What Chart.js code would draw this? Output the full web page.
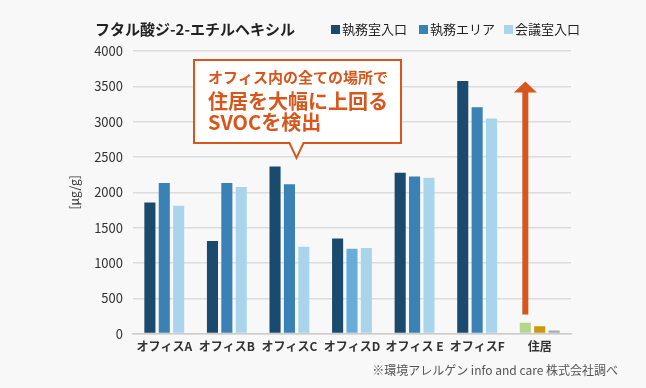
<!DOCTYPE html>
<html lang="ja">
<head>
<meta charset="UTF-8">
<title>フタル酸ジ-2-エチルヘキシル</title>
<script src="https://cdn.jsdelivr.net/npm/chart.js"></script>
<style>
  html, body { margin: 0; padding: 0; background: #f8f8f8; }
  #wrap { width: 646px; height: 388px; }
</style>
</head>
<body>
<div id="wrap"><canvas id="chart"></canvas></div>
<script>
const FONT = '"Noto Sans CJK JP", "Noto Sans", sans-serif';
const ORANGE = '#d8561b';

// データ
const categories = ['オフィスA', 'オフィスB', 'オフィスC', 'オフィスD', 'オフィス E', 'オフィスF', '住居'];
const seriesNames = ['執務室入口', '執務エリア', '会議室入口'];
const execEntrance = [1855, 1310, 2365, 1345, 2275, 3575, 155];
const execArea = [2130, 2130, 2115, 1200, 2225, 3205, 105];
const meetingEntrance = [1810, 2075, 1230, 1210, 2205, 3045, 45];
const yTicks = [0, 500, 1000, 1500, 2000, 2500, 3000, 3500, 4000];
const arrowFrom = 270;   // 矢印の根元 (μg/g)
const arrowTo = 3570;    // 矢印の先端 (μg/g)

const seriesColors = ['#1a4a6d', '#3a81b5', '#a8d5ec'];
const residenceColors = ['#b6d78b', '#c99a0d', '#aaaaaa'];

function colorsFor(i) {
  return categories.map((c, k) => {
    if (k === categories.length - 1) return residenceColors[i];
    if (i === 1 && k === 3) return '#68acd9';
    return seriesColors[i];
  });
}

const annotations = {
  id: 'annotations',
  afterDraw(chart) {
    const ctx = chart.ctx;
    const y = chart.scales.y;
    ctx.save();

    // タイトル
    ctx.fillStyle = '#222';
    ctx.font = 'bold 15px ' + FONT;
    ctx.textBaseline = 'middle';
    ctx.textAlign = 'left';
    ctx.fillText('フタル酸ジ-2-エチルヘキシル', 95, 29);

    // 凡例
    const legendX = [331, 419, 504];
    ctx.font = '13px ' + FONT;
    seriesNames.forEach((name, i) => {
      ctx.fillStyle = seriesColors[i];
      ctx.fillRect(legendX[i], 25, 9, 9);
      ctx.fillStyle = '#222';
      ctx.fillText(name, legendX[i] + 11, 29.5);
    });

    // 出典
    ctx.font = '12px ' + FONT;
    ctx.fillStyle = '#555';
    ctx.textAlign = 'right';
    ctx.fillText('※環境アレルゲン info and care 株式会社調べ', 618, 370);

    // 矢印
    const bar = chart.getDatasetMeta(0).data[categories.length - 1];
    const ax = bar.x;
    const y0 = y.getPixelForValue(arrowFrom);
    const y1 = y.getPixelForValue(arrowTo);
    ctx.fillStyle = ORANGE;
    ctx.fillRect(ax - 3, y1 + 10, 6, y0 - y1 - 10);
    ctx.beginPath();
    ctx.moveTo(ax, y1);
    ctx.lineTo(ax + 11.5, y1 + 11);
    ctx.lineTo(ax - 11.5, y1 + 11);
    ctx.closePath();
    ctx.fill();

    // 吹き出し
    const bx = 194, by = 60, bw = 207, bh = 83, tipX = 296.5, tipY = 158;
    ctx.beginPath();
    ctx.moveTo(bx, by);
    ctx.lineTo(bx + bw, by);
    ctx.lineTo(bx + bw, by + bh);
    ctx.lineTo(tipX + 7, by + bh);
    ctx.lineTo(tipX, tipY);
    ctx.lineTo(tipX - 7, by + bh);
    ctx.lineTo(bx, by + bh);
    ctx.closePath();
    ctx.fillStyle = '#ffffff';
    ctx.fill();
    ctx.lineWidth = 2;
    ctx.strokeStyle = ORANGE;
    ctx.stroke();

    ctx.fillStyle = ORANGE;
    ctx.textAlign = 'left';
    ctx.font = 'bold 15px ' + FONT;
    ctx.fillText('オフィス内の全ての場所で', 208, 77.5);
    ctx.font = 'bold 20px ' + FONT;
    ctx.fillText('住居を大幅に上回る', 208, 101);
    ctx.fillText('SVOCを検出', 208, 122.5);

    ctx.restore();
  }
};

new Chart(document.getElementById('chart'), {
  type: 'bar',
  data: {
    labels: categories,
    datasets: [
      { label: seriesNames[0], data: execEntrance, backgroundColor: colorsFor(0) },
      { label: seriesNames[1], data: execArea, backgroundColor: colorsFor(1) },
      { label: seriesNames[2], data: meetingEntrance, backgroundColor: colorsFor(2) }
    ]
  },
  options: {
    responsive: true,
    maintainAspectRatio: false,
    animation: false,
    categoryPercentage: 0.69,
    barPercentage: 0.77,
    layout: { padding: { top: 51, left: 63, right: 75, bottom: 28 } },
    plugins: {
      legend: { display: false },
      tooltip: { enabled: false }
    },
    scales: {
      x: {
        grid: { display: false, drawTicks: false },
        border: { display: true, color: '#cccccc', width: 1.5 },
        ticks: {
          color: '#333', padding: 6, maxRotation: 0, minRotation: 0, autoSkip: false,
          font: { family: FONT, size: 12, weight: 'bold' }
        }
      },
      y: {
        min: yTicks[0],
        max: yTicks[yTicks.length - 1],
        afterFit(scale) { scale.width = 70; },
        grid: { color: '#dcdcdc', lineWidth: 1.5, drawTicks: false },
        border: { display: false },
        ticks: {
          stepSize: yTicks[1] - yTicks[0],
          color: '#333', padding: 10, font: { family: FONT, size: 13 },
          callback: v => String(v)
        },
        title: { display: true, text: '[μg/g]', color: '#333', font: { family: FONT, size: 12 } }
      }
    }
  },
  plugins: [annotations]
});
</script>
</body>
</html>
